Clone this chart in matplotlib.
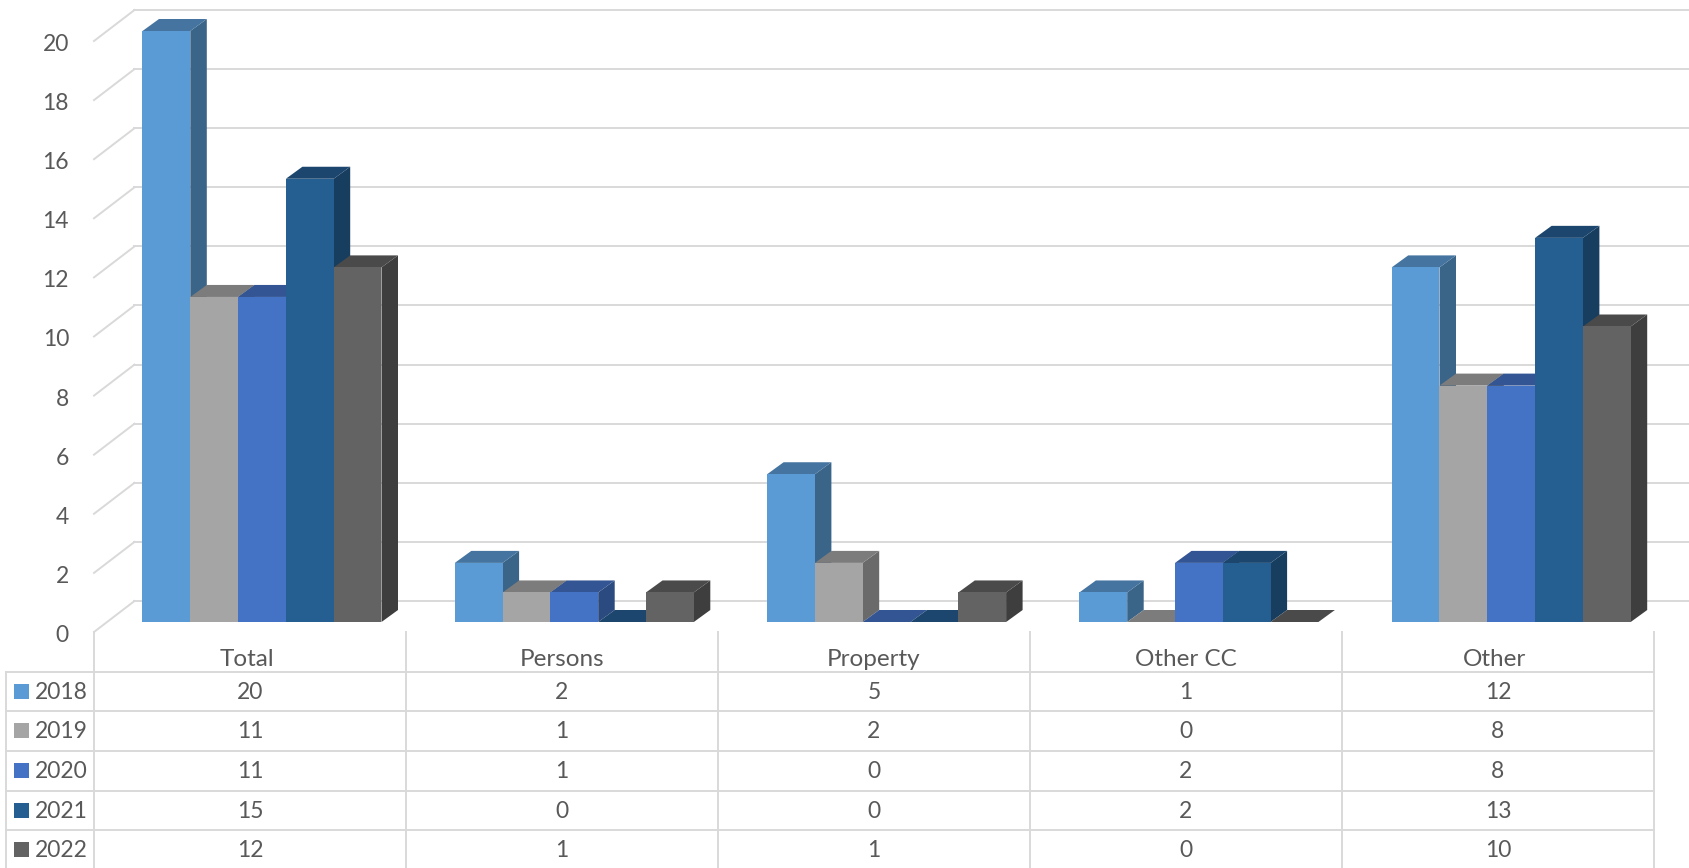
"""3D-look clustered columns with a data table underneath (2018-2022 counts)."""

import matplotlib.pyplot as plt
from matplotlib.patches import Rectangle

plt.rcParams["font.family"] = ["Lato", "DejaVu Sans"]

# ── Data ──────────────────────────────────────────────────────────────────────
CATEGORIES = ["Total", "Persons", "Property", "Other CC", "Other"]
YEARS = ["2018", "2019", "2020", "2021", "2022"]
VALUES_2018 = [20, 2, 5, 1, 12]
VALUES_2019 = [11, 1, 2, 0, 8]
VALUES_2020 = [11, 1, 0, 2, 8]
VALUES_2021 = [15, 0, 0, 2, 13]
VALUES_2022 = [12, 1, 1, 0, 10]
Y_TICKS = [0, 2, 4, 6, 8, 10, 12, 14, 16, 18, 20]

SERIES = [VALUES_2018, VALUES_2019, VALUES_2020, VALUES_2021, VALUES_2022]

# ── Styles ────────────────────────────────────────────────────────────────────
FRONT = ["#5B9BD5", "#A5A5A5", "#4472C4", "#255E91", "#636363"]
TOP = ["#44749F", "#7C7C7C", "#335593", "#1C466D", "#4A4A4A"]
SIDE = ["#3A6488", "#6A6A6A", "#2A4A80", "#173D5F", "#3E3E3E"]
GRID = "#D9D9D9"
TEXT = "#595959"
FONT = 16.5
HEADER_FONT = 17.5
HEADER_NUDGE_PX = [-3.5, 0, 0, 0, -4]

W, H = 1690, 868
CAT_PX = 312.3        # category spacing, pixels
UNIT_PX = 29.55       # one y unit, pixels
BASE_PX = 622         # y pixel of value 0 at the bar front
CENTER_PX = 262.0     # x pixel of first category centre

BAR_W = 47.8 / CAT_PX
DX = 16.5 / CAT_PX    # bar depth
DY = 12 / UNIT_PX
WALL_X = (134.5 - CENTER_PX) / CAT_PX
FRONT_X = (94 - CENTER_PX) / CAT_PX
WALL_Y = 21 / UNIT_PX     # back wall lift
FRONT_Y = -10 / UNIT_PX   # front edge of the floor
LABEL_Y = -13.5 / UNIT_PX # tick labels sit a little under the wall lines

fig = plt.figure(figsize=(W / 100, H / 100), dpi=100, facecolor="white")

# ── Chart ─────────────────────────────────────────────────────────────────────
ax = fig.add_axes([0, 0, 1, 1])
ax.set_xlim(-CENTER_PX / CAT_PX, (W - CENTER_PX) / CAT_PX)
ax.set_ylim((BASE_PX - H) / UNIT_PX, BASE_PX / UNIT_PX)
ax.axis("off")

for v in Y_TICKS:
    ax.plot([WALL_X, ax.get_xlim()[1]], [v + WALL_Y, v + WALL_Y], color=GRID, lw=1.4, zorder=1)
    ax.plot([FRONT_X, WALL_X], [v + FRONT_Y, v + WALL_Y], color=GRID, lw=1.4, zorder=1)
    ax.text((69 - CENTER_PX) / CAT_PX, v + LABEL_Y, str(v), ha="right", va="center",
            color=TEXT, fontsize=FONT)

z = 2
for c in range(len(CATEGORIES)):
    for s, vals in enumerate(SERIES):
        v = vals[c]
        x0 = c + (s - 2.5) * BAR_W
        x1 = x0 + BAR_W
        ax.fill([x1, x1, x1 + DX, x1 + DX], [0, v, v + DY, DY], color=SIDE[s], lw=0, zorder=z)
        ax.fill([x0, x1, x1 + DX, x0 + DX], [v, v, v + DY, v + DY], color=TOP[s], lw=0, zorder=z)
        ax.bar(x0, v, width=BAR_W, align="edge", color=FRONT[s], lw=0, zorder=z + 0.5)
        z += 1

# ── Data table ────────────────────────────────────────────────────────────────
tab_left, tab_right = 94, 1654
tab_top, tab_bottom = 632, 870
tab = fig.add_axes([tab_left / W, 1 - tab_bottom / H, (tab_right - tab_left) / W,
                    (tab_bottom - tab_top) / H])
tab.set_xlim(-0.5, len(CATEGORIES) - 0.5)
tab.set_ylim(len(YEARS), -1)
tab.axis("off")
tab.patch.set_alpha(0)

px = (tab_right - tab_left) / len(CATEGORIES)   # pixels per table column
label_left = -0.5 - (tab_left - 5.5) / px

for k in range(len(CATEGORIES) + 1):
    tab.plot([k - 0.5, k - 0.5], [-1, len(YEARS)], color=GRID, lw=1.4, clip_on=False)
tab.plot([label_left, label_left], [0, len(YEARS)], color=GRID, lw=1.4, clip_on=False)
for r in range(len(YEARS) + 1):
    tab.plot([label_left, len(CATEGORIES) - 0.5], [r, r], color=GRID, lw=1.4, clip_on=False)

for c, name in enumerate(CATEGORIES):
    tab.text(c + HEADER_NUDGE_PX[c] / px, -0.31, name, ha="center", va="center",
             color=TEXT, fontsize=HEADER_FONT)

for r, year in enumerate(YEARS):
    tab.add_patch(Rectangle((-0.5 - (tab_left - 14) / px, r + 0.3), 15 / px, 0.38,
                            facecolor=FRONT[r], edgecolor="none", clip_on=False))
    tab.text(-0.5 - (tab_left - 35) / px, r + 0.52, year, ha="left", va="center",
             color=TEXT, fontsize=FONT)
    for c in range(len(CATEGORIES)):
        tab.text(c, r + 0.52, str(SERIES[r][c]), ha="center", va="center",
                 color=TEXT, fontsize=FONT)

fig.savefig("out.png", dpi=100)
